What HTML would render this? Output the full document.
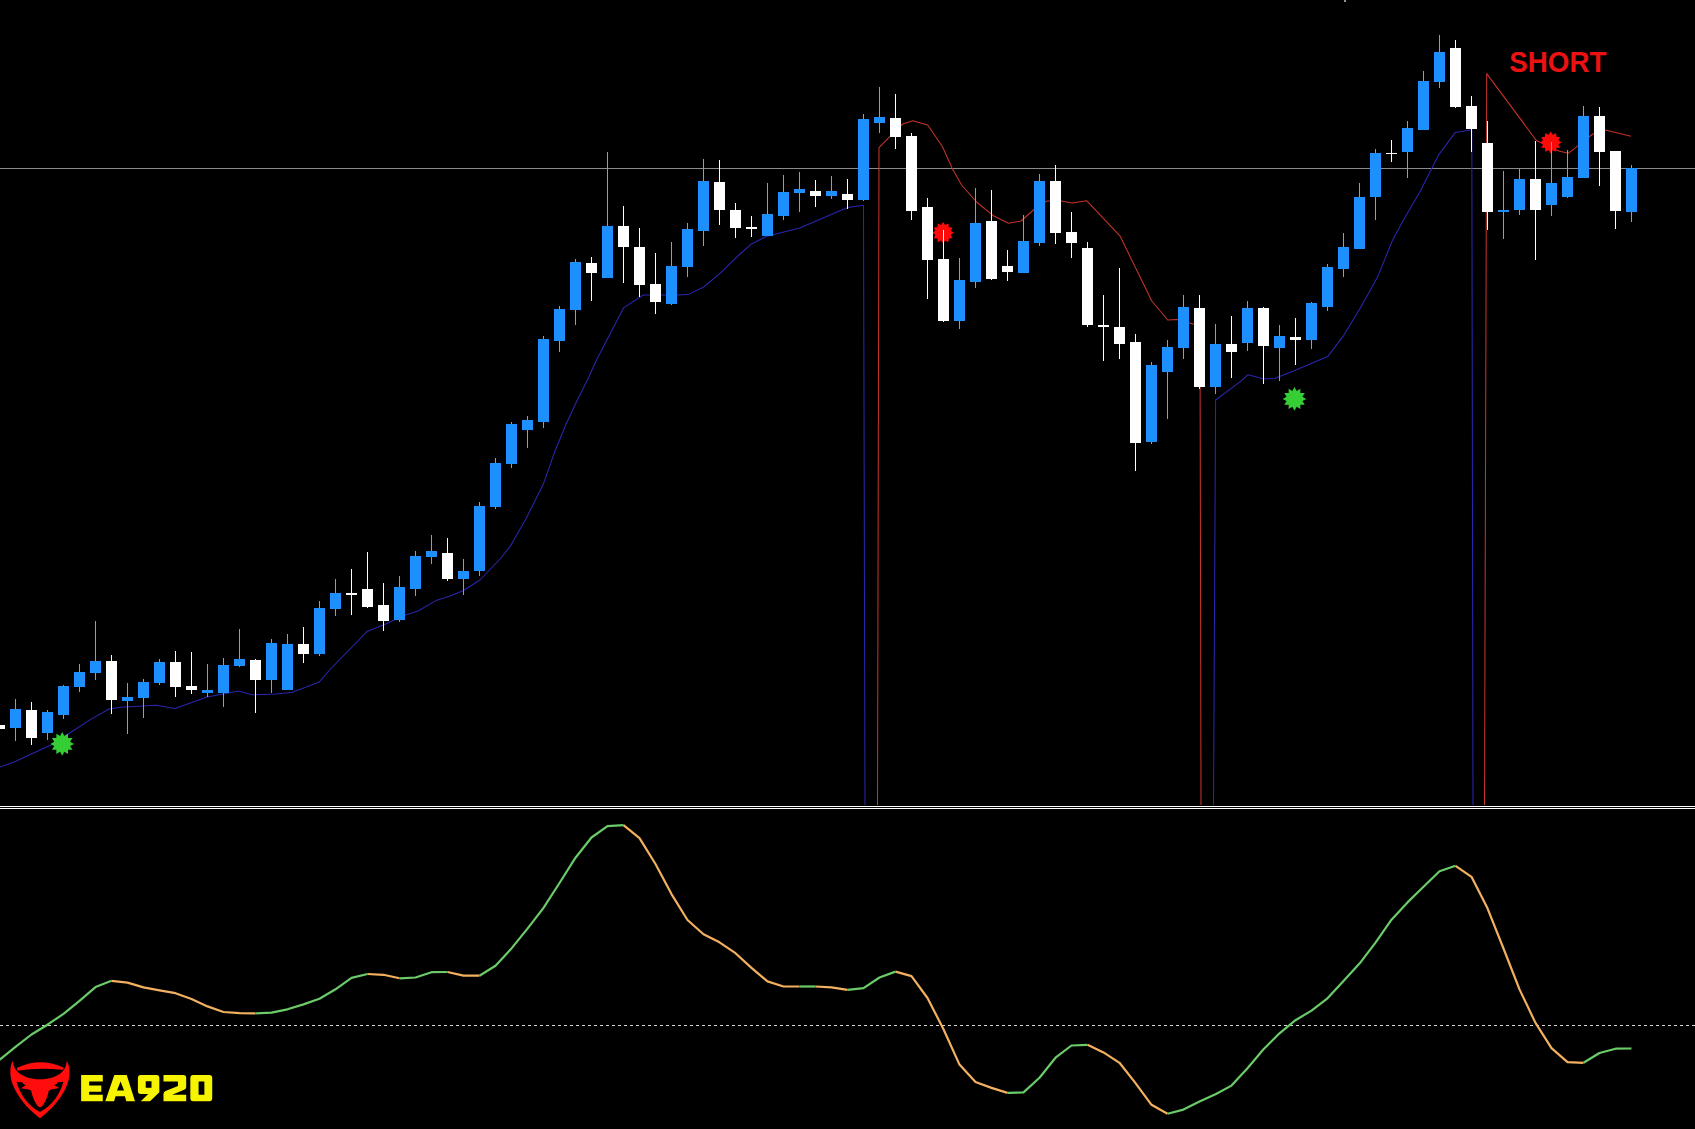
<!DOCTYPE html><html><head><meta charset="utf-8"><style>html,body{margin:0;padding:0;background:#000;overflow:hidden}svg{display:block}</style></head><body>
<svg width="1695" height="1129" viewBox="0 0 1695 1129">
<rect x="0" y="0" width="1695" height="1129" fill="#000"/>
<rect x="0" y="168" width="1695" height="1" fill="#8a8b90" shape-rendering="crispEdges"/>
<polyline points="0.0,767.0 13.0,762.5 52.6,744.2 72.0,731.5 91.5,718.9 109.0,709.0 120.7,707.2 155.8,705.2 175.0,708.5 207.0,697.0 239.0,691.0 251.6,694.8 276.5,694.1 292.0,692.2 305.0,687.5 319.3,681.9 330.0,669.5 367.0,631.6 384.5,624.5 404.0,615.6 418.0,611.0 436.0,600.6 450.0,596.0 463.0,590.8 480.0,580.0 501.0,558.0 510.0,546.7 526.0,518.8 543.5,483.7 554.7,451.8 565.8,424.7 577.0,400.7 587.4,380.0 596.5,360.0 623.8,307.6 643.3,295.0 676.5,295.0 688.0,294.6 703.7,287.0 720.0,273.4 740.0,254.0 751.9,243.7 766.8,236.2 799.7,228.0 847.5,207.5 862.4,205.4 863.5,205.4 865.0,805.0" fill="none" stroke="#2a26b0" stroke-width="1.05" stroke-linejoin="round"/>
<polyline points="1213.5,805.0 1215.6,400.0 1240.0,381.8 1248.0,374.7 1264.0,379.0 1274.6,378.4 1293.0,371.2 1327.7,356.6 1343.6,335.6 1360.5,307.8 1377.3,277.6 1392.4,240.6 1404.2,218.7 1420.0,191.8 1438.3,155.4 1455.3,132.4 1470.1,130.0 1471.8,130.0 1473.0,805.0" fill="none" stroke="#2a26b0" stroke-width="1.05" stroke-linejoin="round"/>
<polyline points="877.5,805.0 879.0,147.6 890.0,136.3 902.8,124.0 912.8,120.8 927.6,125.0 942.5,146.8 952.0,168.0 961.6,185.0 976.5,202.0 993.5,215.8 1008.4,223.3 1021.0,221.0 1034.0,209.5 1046.7,201.0 1061.5,201.0 1072.0,203.0 1086.6,200.7 1119.9,235.8 1151.8,301.0 1167.7,320.0 1177.0,319.6 1191.6,323.5 1200.0,326.0 1201.0,805.0" fill="none" stroke="#c43428" stroke-width="1.05" stroke-linejoin="round"/>
<polyline points="1484.5,805.0 1486.7,73.6 1536.4,140.5 1548.0,145.8 1558.8,151.0 1568.3,153.3 1577.9,145.8 1592.8,134.0 1605.5,130.0 1631.0,136.3" fill="none" stroke="#c43428" stroke-width="1.05" stroke-linejoin="round"/>
<polygon points="62.20,732.10 64.32,735.98 68.10,733.68 68.00,738.10 72.42,738.00 70.12,741.78 74.00,743.90 70.12,746.02 72.42,749.80 68.00,749.70 68.10,754.12 64.32,751.82 62.20,755.70 60.08,751.82 56.30,754.12 56.40,749.70 51.98,749.80 54.28,746.02 50.40,743.90 54.28,741.78 51.98,738.00 56.40,738.10 56.30,733.68 60.08,735.98" fill="#35cf35"/>
<polygon points="1294.50,387.10 1296.62,390.98 1300.40,388.68 1300.30,393.10 1304.72,393.00 1302.42,396.78 1306.30,398.90 1302.42,401.02 1304.72,404.80 1300.30,404.70 1300.40,409.12 1296.62,406.82 1294.50,410.70 1292.38,406.82 1288.60,409.12 1288.70,404.70 1284.28,404.80 1286.58,401.02 1282.70,398.90 1286.58,396.78 1284.28,393.00 1288.70,393.10 1288.60,388.68 1292.38,390.98" fill="#35cf35"/>
<polygon points="943.10,222.00 945.17,225.07 948.50,223.45 948.76,227.14 952.45,227.40 950.83,230.73 953.90,232.80 950.83,234.87 952.45,238.20 948.76,238.46 948.50,242.15 945.17,240.53 943.10,243.60 941.03,240.53 937.70,242.15 937.44,238.46 933.75,238.20 935.37,234.87 932.30,232.80 935.37,230.73 933.75,227.40 937.44,227.14 937.70,223.45 941.03,225.07" fill="#ff0a0a"/>
<polygon points="1550.70,131.60 1552.77,134.67 1556.10,133.05 1556.36,136.74 1560.05,137.00 1558.43,140.33 1561.50,142.40 1558.43,144.47 1560.05,147.80 1556.36,148.06 1556.10,151.75 1552.77,150.13 1550.70,153.20 1548.63,150.13 1545.30,151.75 1545.04,148.06 1541.35,147.80 1542.97,144.47 1539.90,142.40 1542.97,140.33 1541.35,137.00 1545.04,136.74 1545.30,133.05 1548.63,134.67" fill="#ff0a0a"/>
<g shape-rendering="crispEdges">
<rect x="-1" y="725" width="1" height="4" fill="#ffffff"/>
<rect x="-6" y="725" width="11" height="4" fill="#ffffff"/>
<rect x="15" y="699" width="1" height="42" fill="#74a2e6"/>
<rect x="10" y="709" width="11" height="19" fill="#1e8fff"/>
<rect x="31" y="702" width="1" height="43" fill="#ffffff"/>
<rect x="26" y="710" width="11" height="28" fill="#ffffff"/>
<rect x="47" y="710" width="1" height="30" fill="#74a2e6"/>
<rect x="42" y="712" width="11" height="21" fill="#1e8fff"/>
<rect x="63" y="685" width="1" height="34" fill="#74a2e6"/>
<rect x="58" y="686" width="11" height="29" fill="#1e8fff"/>
<rect x="79" y="664" width="1" height="28" fill="#74a2e6"/>
<rect x="74" y="672" width="11" height="15" fill="#1e8fff"/>
<rect x="95" y="621" width="1" height="59" fill="#74a2e6"/>
<rect x="90" y="661" width="11" height="12" fill="#1e8fff"/>
<rect x="111" y="655" width="1" height="59" fill="#ffffff"/>
<rect x="106" y="661" width="11" height="39" fill="#ffffff"/>
<rect x="127" y="683" width="1" height="51" fill="#74a2e6"/>
<rect x="122" y="697" width="11" height="4" fill="#1e8fff"/>
<rect x="143" y="679" width="1" height="39" fill="#74a2e6"/>
<rect x="138" y="682" width="11" height="16" fill="#1e8fff"/>
<rect x="159" y="659" width="1" height="26" fill="#74a2e6"/>
<rect x="154" y="662" width="11" height="21" fill="#1e8fff"/>
<rect x="175" y="651" width="1" height="46" fill="#ffffff"/>
<rect x="170" y="662" width="11" height="25" fill="#ffffff"/>
<rect x="191" y="652" width="1" height="42" fill="#ffffff"/>
<rect x="186" y="686" width="11" height="4" fill="#ffffff"/>
<rect x="207" y="664" width="1" height="33" fill="#74a2e6"/>
<rect x="202" y="690" width="11" height="3" fill="#1e8fff"/>
<rect x="223" y="658" width="1" height="49" fill="#74a2e6"/>
<rect x="218" y="665" width="11" height="28" fill="#1e8fff"/>
<rect x="239" y="629" width="1" height="38" fill="#74a2e6"/>
<rect x="234" y="659" width="11" height="7" fill="#1e8fff"/>
<rect x="255" y="659" width="1" height="54" fill="#ffffff"/>
<rect x="250" y="660" width="11" height="20" fill="#ffffff"/>
<rect x="271" y="639" width="1" height="54" fill="#74a2e6"/>
<rect x="266" y="643" width="11" height="37" fill="#1e8fff"/>
<rect x="287" y="634" width="1" height="56" fill="#74a2e6"/>
<rect x="282" y="644" width="11" height="46" fill="#1e8fff"/>
<rect x="303" y="627" width="1" height="36" fill="#ffffff"/>
<rect x="298" y="644" width="11" height="10" fill="#ffffff"/>
<rect x="319" y="601" width="1" height="55" fill="#74a2e6"/>
<rect x="314" y="608" width="11" height="46" fill="#1e8fff"/>
<rect x="335" y="579" width="1" height="37" fill="#74a2e6"/>
<rect x="330" y="593" width="11" height="16" fill="#1e8fff"/>
<rect x="351" y="569" width="1" height="46" fill="#ffffff"/>
<rect x="346" y="593" width="11" height="2" fill="#ffffff"/>
<rect x="367" y="552" width="1" height="56" fill="#ffffff"/>
<rect x="362" y="589" width="11" height="18" fill="#ffffff"/>
<rect x="383" y="583" width="1" height="48" fill="#ffffff"/>
<rect x="378" y="605" width="11" height="16" fill="#ffffff"/>
<rect x="399" y="576" width="1" height="46" fill="#74a2e6"/>
<rect x="394" y="587" width="11" height="33" fill="#1e8fff"/>
<rect x="415" y="551" width="1" height="45" fill="#74a2e6"/>
<rect x="410" y="556" width="11" height="33" fill="#1e8fff"/>
<rect x="431" y="535" width="1" height="29" fill="#74a2e6"/>
<rect x="426" y="551" width="11" height="6" fill="#1e8fff"/>
<rect x="447" y="538" width="1" height="43" fill="#ffffff"/>
<rect x="442" y="553" width="11" height="26" fill="#ffffff"/>
<rect x="463" y="559" width="1" height="36" fill="#74a2e6"/>
<rect x="458" y="571" width="11" height="8" fill="#1e8fff"/>
<rect x="479" y="502" width="1" height="74" fill="#74a2e6"/>
<rect x="474" y="506" width="11" height="65" fill="#1e8fff"/>
<rect x="495" y="458" width="1" height="51" fill="#74a2e6"/>
<rect x="490" y="463" width="11" height="44" fill="#1e8fff"/>
<rect x="511" y="422" width="1" height="46" fill="#74a2e6"/>
<rect x="506" y="424" width="11" height="40" fill="#1e8fff"/>
<rect x="527" y="416" width="1" height="32" fill="#74a2e6"/>
<rect x="522" y="420" width="11" height="10" fill="#1e8fff"/>
<rect x="543" y="336" width="1" height="92" fill="#74a2e6"/>
<rect x="538" y="339" width="11" height="83" fill="#1e8fff"/>
<rect x="559" y="306" width="1" height="46" fill="#74a2e6"/>
<rect x="554" y="309" width="11" height="32" fill="#1e8fff"/>
<rect x="575" y="259" width="1" height="66" fill="#74a2e6"/>
<rect x="570" y="262" width="11" height="48" fill="#1e8fff"/>
<rect x="591" y="257" width="1" height="44" fill="#ffffff"/>
<rect x="586" y="263" width="11" height="10" fill="#ffffff"/>
<rect x="607" y="152" width="1" height="126" fill="#74a2e6"/>
<rect x="602" y="226" width="11" height="52" fill="#1e8fff"/>
<rect x="623" y="206" width="1" height="77" fill="#ffffff"/>
<rect x="618" y="226" width="11" height="21" fill="#ffffff"/>
<rect x="639" y="228" width="1" height="69" fill="#ffffff"/>
<rect x="634" y="247" width="11" height="38" fill="#ffffff"/>
<rect x="655" y="253" width="1" height="61" fill="#ffffff"/>
<rect x="650" y="284" width="11" height="18" fill="#ffffff"/>
<rect x="671" y="242" width="1" height="63" fill="#74a2e6"/>
<rect x="666" y="266" width="11" height="38" fill="#1e8fff"/>
<rect x="687" y="223" width="1" height="54" fill="#74a2e6"/>
<rect x="682" y="229" width="11" height="38" fill="#1e8fff"/>
<rect x="703" y="159" width="1" height="87" fill="#74a2e6"/>
<rect x="698" y="181" width="11" height="50" fill="#1e8fff"/>
<rect x="719" y="160" width="1" height="65" fill="#ffffff"/>
<rect x="714" y="182" width="11" height="28" fill="#ffffff"/>
<rect x="735" y="203" width="1" height="35" fill="#ffffff"/>
<rect x="730" y="210" width="11" height="18" fill="#ffffff"/>
<rect x="751" y="216" width="1" height="21" fill="#ffffff"/>
<rect x="746" y="227" width="11" height="2" fill="#ffffff"/>
<rect x="767" y="183" width="1" height="53" fill="#74a2e6"/>
<rect x="762" y="214" width="11" height="22" fill="#1e8fff"/>
<rect x="783" y="175" width="1" height="45" fill="#74a2e6"/>
<rect x="778" y="192" width="11" height="24" fill="#1e8fff"/>
<rect x="799" y="172" width="1" height="40" fill="#74a2e6"/>
<rect x="794" y="189" width="11" height="4" fill="#1e8fff"/>
<rect x="815" y="180" width="1" height="27" fill="#ffffff"/>
<rect x="810" y="191" width="11" height="5" fill="#ffffff"/>
<rect x="831" y="176" width="1" height="23" fill="#74a2e6"/>
<rect x="826" y="191" width="11" height="5" fill="#1e8fff"/>
<rect x="847" y="179" width="1" height="30" fill="#ffffff"/>
<rect x="842" y="194" width="11" height="6" fill="#ffffff"/>
<rect x="863" y="114" width="1" height="87" fill="#74a2e6"/>
<rect x="858" y="119" width="11" height="81" fill="#1e8fff"/>
<rect x="879" y="87" width="1" height="46" fill="#74a2e6"/>
<rect x="874" y="117" width="11" height="6" fill="#1e8fff"/>
<rect x="895" y="94" width="1" height="55" fill="#ffffff"/>
<rect x="890" y="118" width="11" height="19" fill="#ffffff"/>
<rect x="911" y="133" width="1" height="87" fill="#ffffff"/>
<rect x="906" y="136" width="11" height="75" fill="#ffffff"/>
<rect x="927" y="198" width="1" height="101" fill="#ffffff"/>
<rect x="922" y="207" width="11" height="53" fill="#ffffff"/>
<rect x="943" y="230" width="1" height="92" fill="#ffffff"/>
<rect x="938" y="259" width="11" height="62" fill="#ffffff"/>
<rect x="959" y="258" width="1" height="71" fill="#74a2e6"/>
<rect x="954" y="280" width="11" height="41" fill="#1e8fff"/>
<rect x="975" y="188" width="1" height="100" fill="#74a2e6"/>
<rect x="970" y="223" width="11" height="59" fill="#1e8fff"/>
<rect x="991" y="190" width="1" height="90" fill="#ffffff"/>
<rect x="986" y="221" width="11" height="58" fill="#ffffff"/>
<rect x="1007" y="250" width="1" height="31" fill="#ffffff"/>
<rect x="1002" y="266" width="11" height="6" fill="#ffffff"/>
<rect x="1023" y="215" width="1" height="58" fill="#74a2e6"/>
<rect x="1018" y="241" width="11" height="32" fill="#1e8fff"/>
<rect x="1039" y="174" width="1" height="72" fill="#74a2e6"/>
<rect x="1034" y="181" width="11" height="62" fill="#1e8fff"/>
<rect x="1055" y="165" width="1" height="79" fill="#ffffff"/>
<rect x="1050" y="181" width="11" height="52" fill="#ffffff"/>
<rect x="1071" y="212" width="1" height="46" fill="#ffffff"/>
<rect x="1066" y="232" width="11" height="11" fill="#ffffff"/>
<rect x="1087" y="242" width="1" height="85" fill="#ffffff"/>
<rect x="1082" y="248" width="11" height="77" fill="#ffffff"/>
<rect x="1103" y="295" width="1" height="66" fill="#ffffff"/>
<rect x="1098" y="325" width="11" height="2" fill="#ffffff"/>
<rect x="1119" y="268" width="1" height="91" fill="#ffffff"/>
<rect x="1114" y="327" width="11" height="17" fill="#ffffff"/>
<rect x="1135" y="334" width="1" height="137" fill="#ffffff"/>
<rect x="1130" y="342" width="11" height="101" fill="#ffffff"/>
<rect x="1151" y="362" width="1" height="82" fill="#74a2e6"/>
<rect x="1146" y="365" width="11" height="77" fill="#1e8fff"/>
<rect x="1167" y="340" width="1" height="79" fill="#74a2e6"/>
<rect x="1162" y="347" width="11" height="25" fill="#1e8fff"/>
<rect x="1183" y="295" width="1" height="64" fill="#74a2e6"/>
<rect x="1178" y="307" width="11" height="41" fill="#1e8fff"/>
<rect x="1199" y="295" width="1" height="94" fill="#ffffff"/>
<rect x="1194" y="308" width="11" height="79" fill="#ffffff"/>
<rect x="1215" y="324" width="1" height="70" fill="#74a2e6"/>
<rect x="1210" y="344" width="11" height="43" fill="#1e8fff"/>
<rect x="1231" y="316" width="1" height="62" fill="#ffffff"/>
<rect x="1226" y="344" width="11" height="8" fill="#ffffff"/>
<rect x="1247" y="301" width="1" height="50" fill="#74a2e6"/>
<rect x="1242" y="308" width="11" height="35" fill="#1e8fff"/>
<rect x="1263" y="307" width="1" height="77" fill="#ffffff"/>
<rect x="1258" y="308" width="11" height="38" fill="#ffffff"/>
<rect x="1279" y="325" width="1" height="56" fill="#74a2e6"/>
<rect x="1274" y="336" width="11" height="12" fill="#1e8fff"/>
<rect x="1295" y="318" width="1" height="47" fill="#ffffff"/>
<rect x="1290" y="337" width="11" height="3" fill="#ffffff"/>
<rect x="1311" y="302" width="1" height="47" fill="#74a2e6"/>
<rect x="1306" y="303" width="11" height="37" fill="#1e8fff"/>
<rect x="1327" y="264" width="1" height="47" fill="#74a2e6"/>
<rect x="1322" y="267" width="11" height="40" fill="#1e8fff"/>
<rect x="1343" y="233" width="1" height="44" fill="#74a2e6"/>
<rect x="1338" y="247" width="11" height="22" fill="#1e8fff"/>
<rect x="1359" y="183" width="1" height="66" fill="#74a2e6"/>
<rect x="1354" y="197" width="11" height="52" fill="#1e8fff"/>
<rect x="1375" y="149" width="1" height="71" fill="#74a2e6"/>
<rect x="1370" y="153" width="11" height="44" fill="#1e8fff"/>
<rect x="1391" y="140" width="1" height="22" fill="#ffffff"/>
<rect x="1386" y="153" width="11" height="1" fill="#ffffff"/>
<rect x="1407" y="121" width="1" height="57" fill="#74a2e6"/>
<rect x="1402" y="128" width="11" height="24" fill="#1e8fff"/>
<rect x="1423" y="71" width="1" height="59" fill="#74a2e6"/>
<rect x="1418" y="81" width="11" height="49" fill="#1e8fff"/>
<rect x="1439" y="35" width="1" height="53" fill="#74a2e6"/>
<rect x="1434" y="52" width="11" height="30" fill="#1e8fff"/>
<rect x="1455" y="40" width="1" height="68" fill="#ffffff"/>
<rect x="1450" y="48" width="11" height="59" fill="#ffffff"/>
<rect x="1471" y="96" width="1" height="56" fill="#ffffff"/>
<rect x="1466" y="106" width="11" height="23" fill="#ffffff"/>
<rect x="1487" y="121" width="1" height="109" fill="#ffffff"/>
<rect x="1482" y="143" width="11" height="69" fill="#ffffff"/>
<rect x="1503" y="171" width="1" height="68" fill="#74a2e6"/>
<rect x="1498" y="210" width="11" height="2" fill="#1e8fff"/>
<rect x="1519" y="169" width="1" height="46" fill="#74a2e6"/>
<rect x="1514" y="179" width="11" height="31" fill="#1e8fff"/>
<rect x="1535" y="141" width="1" height="119" fill="#ffffff"/>
<rect x="1530" y="179" width="11" height="31" fill="#ffffff"/>
<rect x="1551" y="142" width="1" height="74" fill="#74a2e6"/>
<rect x="1546" y="183" width="11" height="22" fill="#1e8fff"/>
<rect x="1567" y="150" width="1" height="48" fill="#74a2e6"/>
<rect x="1562" y="177" width="11" height="20" fill="#1e8fff"/>
<rect x="1583" y="106" width="1" height="72" fill="#74a2e6"/>
<rect x="1578" y="116" width="11" height="62" fill="#1e8fff"/>
<rect x="1599" y="107" width="1" height="79" fill="#ffffff"/>
<rect x="1594" y="116" width="11" height="36" fill="#ffffff"/>
<rect x="1615" y="151" width="1" height="78" fill="#ffffff"/>
<rect x="1610" y="151" width="11" height="60" fill="#ffffff"/>
<rect x="1631" y="165" width="1" height="57" fill="#74a2e6"/>
<rect x="1626" y="168" width="11" height="44" fill="#1e8fff"/>
</g>
<text transform="translate(1509.3,72) scale(0.925,1)" x="0" y="0" font-family="Liberation Sans, sans-serif" font-weight="bold" font-size="30" fill="#ec1212">SHORT</text>
<rect x="1344" y="0" width="2" height="2" fill="#909090"/>
<rect x="0" y="806" width="1695" height="1" fill="#ffffff" shape-rendering="crispEdges"/>
<rect x="0" y="808" width="1695" height="1" fill="#ffffff" shape-rendering="crispEdges"/>
<line x1="0" y1="1025.5" x2="1695" y2="1025.5" stroke="#d8d8d8" stroke-width="1" stroke-dasharray="3,3" shape-rendering="crispEdges"/>
<polyline points="-0.5,1059.8 15.5,1046.9 31.5,1034.5 47.5,1024.7 63.5,1013.9 79.5,1000.8 95.5,987.1 111.5,980.8" fill="none" stroke="#6acb68" stroke-width="2.2" stroke-linejoin="round"/>
<polyline points="111.5,980.8 127.5,982.6 143.5,987.4 159.5,990.4 175.5,993.2 191.5,999.0 207.5,1006.4 223.5,1012.0 239.5,1013.1 255.5,1013.3" fill="none" stroke="#f2b060" stroke-width="2.2" stroke-linejoin="round"/>
<polyline points="255.5,1013.3 271.5,1012.7 287.5,1009.3 303.5,1004.4 319.5,998.7 335.5,989.3 351.5,977.9 367.5,974.0" fill="none" stroke="#6acb68" stroke-width="2.2" stroke-linejoin="round"/>
<polyline points="367.5,974.0 383.5,974.8 399.5,978.3" fill="none" stroke="#f2b060" stroke-width="2.2" stroke-linejoin="round"/>
<polyline points="399.5,978.3 415.5,977.5 431.5,972.2 447.5,972.0" fill="none" stroke="#6acb68" stroke-width="2.2" stroke-linejoin="round"/>
<polyline points="447.5,972.0 463.5,975.6 479.5,975.7" fill="none" stroke="#f2b060" stroke-width="2.2" stroke-linejoin="round"/>
<polyline points="479.5,975.7 495.5,965.8 511.5,948.4 527.5,928.6 543.5,907.9 559.5,883.0 575.5,857.7 591.5,837.5 607.5,826.2 623.5,825.2" fill="none" stroke="#6acb68" stroke-width="2.2" stroke-linejoin="round"/>
<polyline points="623.5,825.2 639.5,838.1 655.5,864.0 671.5,894.1 687.5,920.0 703.5,934.2 719.5,942.3 735.5,953.2 751.5,967.9 767.5,981.4 783.5,986.5 799.5,986.5" fill="none" stroke="#f2b060" stroke-width="2.2" stroke-linejoin="round"/>
<polyline points="799.5,986.5 815.5,986.5" fill="none" stroke="#6acb68" stroke-width="2.2" stroke-linejoin="round"/>
<polyline points="815.5,986.5 831.5,987.3 847.5,989.9" fill="none" stroke="#f2b060" stroke-width="2.2" stroke-linejoin="round"/>
<polyline points="847.5,989.9 863.5,988.1 879.5,977.5 895.5,971.6" fill="none" stroke="#6acb68" stroke-width="2.2" stroke-linejoin="round"/>
<polyline points="895.5,971.6 911.5,976.1 927.5,998.0 943.5,1029.2 959.5,1064.6 975.5,1082.0 991.5,1087.9 1007.5,1092.9" fill="none" stroke="#f2b060" stroke-width="2.2" stroke-linejoin="round"/>
<polyline points="1007.5,1092.9 1023.5,1092.4 1039.5,1077.7 1055.5,1057.7 1071.5,1045.5 1087.5,1044.8" fill="none" stroke="#6acb68" stroke-width="2.2" stroke-linejoin="round"/>
<polyline points="1087.5,1044.8 1103.5,1052.4 1119.5,1062.8 1135.5,1083.1 1151.5,1104.8 1167.5,1113.8" fill="none" stroke="#f2b060" stroke-width="2.2" stroke-linejoin="round"/>
<polyline points="1167.5,1113.8 1183.5,1109.6 1199.5,1101.6 1215.5,1094.3 1231.5,1085.6 1247.5,1068.2 1263.5,1049.3 1279.5,1033.3 1295.5,1020.2 1311.5,1010.6 1327.5,998.3 1343.5,980.9 1359.5,963.6 1375.5,942.6 1391.5,919.7 1407.5,902.4 1423.5,886.7 1439.5,871.3 1455.5,865.8" fill="none" stroke="#6acb68" stroke-width="2.2" stroke-linejoin="round"/>
<polyline points="1455.5,865.8 1471.5,876.8 1487.5,908.3 1503.5,948.5 1519.5,989.4 1535.5,1022.9 1551.5,1048.1 1567.5,1062.2 1583.5,1062.8" fill="none" stroke="#f2b060" stroke-width="2.2" stroke-linejoin="round"/>
<polyline points="1583.5,1062.8 1599.5,1053.0 1615.5,1048.7 1631.5,1048.5" fill="none" stroke="#6acb68" stroke-width="2.2" stroke-linejoin="round"/>
<g transform="translate(5,1055) scale(0.059322)" fill="#ff0c0c">
<path d="M130,95 C70,200 80,380 140,520 C210,690 360,900 590,1065 C820,900 970,690 1040,520 C1100,380 1110,200 1040,95 C1040,260 900,400 590,410 C280,400 140,260 130,95 Z"/>
<path d="M195,450 C350,475 830,475 985,450 C930,650 800,850 590,960 C380,850 250,650 195,450 Z" fill="#000"/>
<path d="M300,440 L880,440 L880,480 L830,510 L915,555 L780,580 L740,600 C720,700 680,800 630,860 C610,885 570,885 550,860 C500,800 460,700 440,600 L400,580 L265,560 L350,510 L300,480 Z"/>
<path d="M225,235 Q590,62 960,225 Q590,186 225,235 Z" stroke="#ff0c0c" stroke-width="50" stroke-linejoin="round"/>
</g>
<g transform="translate(78,1070) scale(0.082597)" fill="#f6f400" fill-rule="evenodd">
<path d="M38,62 H300 V140 H135 V187 H282 V262 H135 V300 H300 V378 H38 Z"/>
<path d="M440,62 H590 L690,378 H585 L568,318 H455 L437,378 H330 Z M515,138 L472,248 H558 Z"/>
<path d="M760,62 H950 Q985,62 985,97 V270 L872,378 H760 L850,290 H760 Q725,290 725,255 V97 Q725,62 760,62 Z M820,135 H890 V215 H820 Z"/>
<path d="M1035,62 H1275 Q1310,62 1310,97 V205 Q1310,230 1285,240 L1140,300 H1310 V378 H1035 V290 Q1035,265 1060,255 L1210,195 V140 H1035 Z"/>
<path d="M1395,62 H1590 Q1625,62 1625,97 V343 Q1625,378 1590,378 H1395 Q1360,378 1360,343 V97 Q1360,62 1395,62 Z M1460,140 H1530 V300 H1460 Z"/>
</g>
</svg></body></html>
